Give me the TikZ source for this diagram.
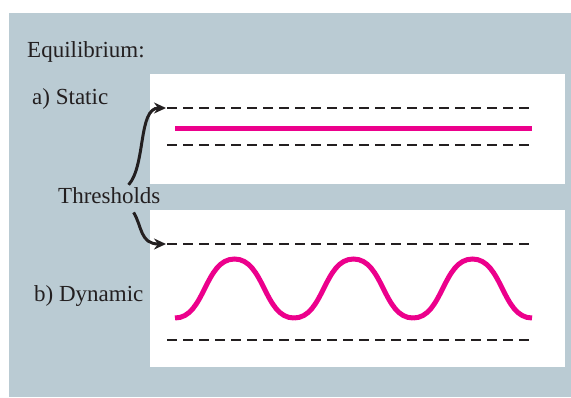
\documentclass[tikz,border=0pt]{standalone}
\usepackage{fontspec}
\setmainfont{Liberation Serif}
\usepackage{xcolor}
\usetikzlibrary{arrows.meta, positioning}

\definecolor{bggray}{HTML}{BACBD3}
\definecolor{signal}{HTML}{EC008C}
\definecolor{ink}{HTML}{231F20}

\begin{document}
\begin{tikzpicture}[
  x=1pt, y=-1pt,
  lbl/.style={anchor=base west, inner sep=0pt, text=ink,
    font=\fontsize{23}{27}\selectfont},
  panel/.style={fill=white, draw=none, inner sep=0pt, anchor=north west},
  thr/.style={dash pattern=on 10pt off 6pt, line width=2.8pt, ink},
  sig/.style={line width=5pt, signal},
  arr/.style={-{Stealth[length=12pt, width=11pt]}, line width=3pt, ink,
    shorten >=1pt}
]
\useasboundingbox (0,0) rectangle (571,397);
\fill[bggray] (9,13) rectangle (571,397);

% panels
\node[panel, minimum width=415pt, minimum height=110pt] (pa) at (150,74) {};
\node[panel, minimum width=415pt, minimum height=157pt] (pb) at (150,210) {};

% labels
\node[lbl] (title) at (27,57) {Equilibrium:};
\node[lbl] (stat) at (32,104) {a) Static};
\node[lbl] (thr) at (58,203) {Thresholds};
\node[lbl] (dyn) at (34,301) {b) Dynamic};

% a) static
\coordinate (a1) at (167,108);
\coordinate (a2) at (532,108);
\coordinate (a3) at (167,145);
\coordinate (a4) at (532,145);
\draw[thr] (a1) -- (a2);
\draw[thr] (a3) -- (a4);
\draw[sig] (175,128) -- (532,128);

% b) dynamic
\coordinate (b1) at (167,244);
\coordinate (b2) at (532,244);
\coordinate (b3) at (167,340);
\coordinate (b4) at (532,340);
\draw[thr] (b1) -- (b2);
\draw[thr] (b3) -- (b4);
\foreach \s in {0,1,2}
  \draw[sig, line cap=butt] ({175+119*\s},318)
    .. controls ({205+119*\s},318) and ({204.5+119*\s},259) .. ({234.5+119*\s},259)
    .. controls ({264.5+119*\s},259) and ({264+119*\s},318) .. ({294+119*\s},318);

% arrows
\draw[arr] ([xshift=-32pt, yshift=2pt]thr.north east)
  .. controls (146,165) and (138,108) .. (a1);
\draw[arr] ([xshift=-27pt, yshift=-9pt]thr.south east)
  .. controls (142,226) and (140,244) .. (b1);
\end{tikzpicture}
\end{document}
